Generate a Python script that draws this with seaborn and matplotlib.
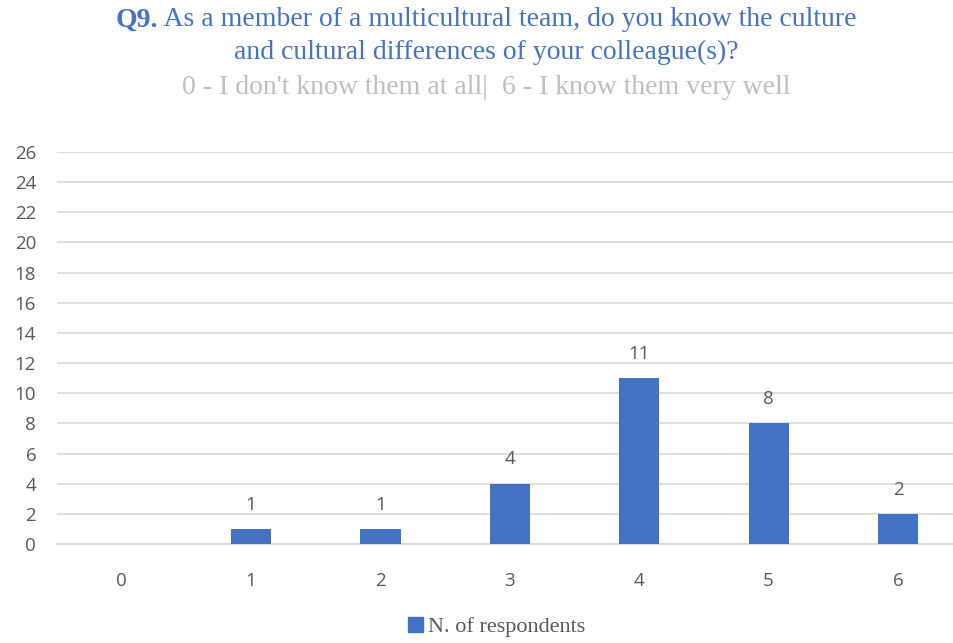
import matplotlib
matplotlib.use("Agg")
import matplotlib.pyplot as plt
import seaborn as sns
import pandas as pd
from matplotlib.patches import Patch

# Survey answers: score 0..6 and number of respondents
scores = ["0", "1", "2", "3", "4", "5", "6"]
respondents = [0, 1, 1, 4, 11, 8, 2]
y_ticks = list(range(0, 27, 2))

title_q = "Q9."
title_l1 = " As a member of a multicultural team, do you know the culture"
title_l2 = "and cultural differences of your colleague(s)?"
subtitle = "0 - I don't know them at all|  6 - I know them very well"
legend_label = "N. of respondents"

BLUE = "#4472C4"
GRID = "#D9D9D9"
TICK = "#595959"

sns.set_theme(style="white")
plt.rcParams["font.family"] = ["Open Sans", "DejaVu Sans"]

df = pd.DataFrame({"score": scores, "n": respondents})

W, H = 954, 643
fig = plt.figure(figsize=(W / 100, H / 100), dpi=100)
ax = fig.add_axes([57 / W, 99 / H, (962.7 - 57) / W, 392 / H])

sns.barplot(data=df, x="score", y="n", color=BLUE, width=0.31,
            saturation=1, ax=ax, zorder=3, linewidth=0)

ax.set_ylim(0, 26)
ax.set_xlim(-0.5, 6.5)
ax.set_yticks(y_ticks)
ax.yaxis.grid(True, color=GRID, linewidth=1.2, zorder=0)
ax.set_axisbelow(True)
for s in ["top", "right", "left"]:
    ax.spines[s].set_visible(False)
ax.spines["bottom"].set_color(GRID)
ax.spines["bottom"].set_linewidth(1.2)
ax.tick_params(axis="both", length=0, colors=TICK, labelsize=13.5)
ax.tick_params(axis="y", pad=15)
ax.tick_params(axis="x", pad=20)
ax.set_xlabel("")
ax.set_ylabel("")

# value labels above bars (zero bar left unlabeled)
for i, v in enumerate(respondents):
    if v > 0:
        ax.annotate(str(v), (i, v), xytext=(0, 11), textcoords="offset points",
                    ha="center", va="bottom", color=TICK, fontsize=13.5)

serif = ["Liberation Serif", "DejaVu Serif"]
TS = 20

# first title line: bold "Q9." followed by regular text, centered as one line
renderer = fig.canvas.get_renderer()
q = fig.text(0, 0, title_q, fontsize=TS, fontweight="bold", family=serif)
qw = q.get_window_extent(renderer).width
q.remove()
r = fig.text(0, 0, title_l1, fontsize=TS, family=serif)
rw = r.get_window_extent(renderer).width
r.remove()
start = (2 * 486 - (qw + rw)) / 2
fig.text(start / W, 1 - 20 / H, title_q, ha="left", va="center",
         fontsize=TS, fontweight="bold", color=BLUE, family=serif)
fig.text((start + qw) / W, 1 - 20 / H, title_l1, ha="left", va="center",
         fontsize=TS, color=BLUE, family=serif)
fig.text(486 / W, 1 - 52 / H, title_l2, ha="center", va="center",
         fontsize=TS, color=BLUE, family=serif)
fig.text(486 / W, 1 - 87 / H, subtitle, ha="center", va="center",
         fontsize=TS, color="#BFBFBF", family=serif)

handle = Patch(facecolor=BLUE, edgecolor=BLUE)
fig.legend([handle], [legend_label], loc="center", bbox_to_anchor=(497 / W, 1 - 627 / H),
           frameon=False, handlelength=0.65, handleheight=0.65, handletextpad=0.25,
           prop={"family": serif, "size": 16}, labelcolor=TICK)

fig.savefig("out.png", dpi=100)
